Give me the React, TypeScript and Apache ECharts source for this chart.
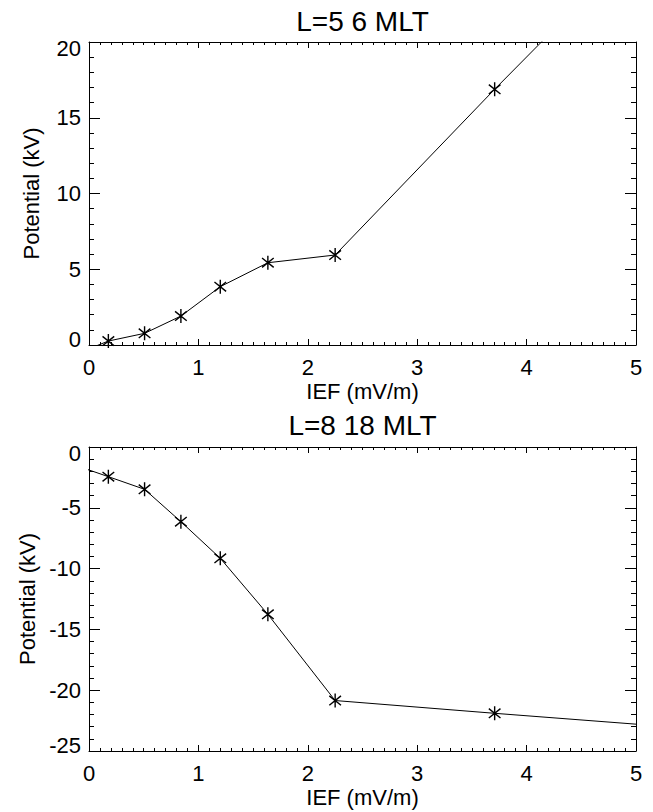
import React, { useEffect, useRef } from "react";
import * as echarts from "echarts";

// IEF (mV/m) at which the potential was evaluated
const ief = [0.177, 0.508, 0.84, 1.2, 1.635, 2.25, 3.708];
// Potential (kV), L=5, 6 MLT
const potL5 = [0.26, 0.77, 1.91, 3.85, 5.43, 5.94, 16.88];
// Potential (kV), L=8, 18 MLT
const potL8 = [-2.44, -3.48, -6.14, -9.15, -13.76, -20.85, -21.9];
// points lying outside the plotted window (line continues to the frame)
const iefOuterL5 = [0.0, 4.5];
const potOuterL5 = [-0.25, 22.66];
const iefOuterL8 = [-0.1, 5.3];
const potOuterL8 = [-1.58, -23.0];

const titles = ["L=5 6 MLT", "L=8 18 MLT"];
const xName = "IEF (mV/m)";
const yName = "Potential (kV)";
const xTicks = { min: 0, max: 5, interval: 1 };
const yTicksL5 = { min: 0, max: 20, interval: 5 };
const yTicksL8 = { min: -25, max: 0, interval: 5 };

const FONT = "'Liberation Sans', Arial, Helvetica, sans-serif";
const STAR = "path://M0,-6L0,6M-5,-4L5,4M-5,4L5,-4";

export default function App() {
  const ref = useRef<HTMLDivElement>(null);
  useEffect(() => {
    if (!ref.current) return;
    const chart = echarts.init(ref.current, undefined, { renderer: "svg" });

    const gridL = 89;
    const gridR = 17;
    const grids = [
      { left: gridL, right: gridR, top: 42, height: 303 },
      { left: gridL, right: gridR, top: 447, height: 304 },
    ];

    const mkX = (gi: number, pos: "bottom" | "top") => ({
      type: "value",
      gridIndex: gi,
      position: pos,
      min: xTicks.min,
      max: xTicks.max,
      interval: xTicks.interval,
      name: pos === "bottom" ? xName : "",
      nameLocation: "middle",
      nameGap: 35,
      nameTextStyle: { fontFamily: FONT, fontSize: 22, color: "#000" },
      axisLine: { show: true, onZero: false, lineStyle: { color: "#000", width: 1 } },
      axisTick: { show: true, inside: true, length: 6, lineStyle: { color: "#000", width: 1 } },
      minorTick: { show: true, splitNumber: 10, length: 3, lineStyle: { color: "#000", width: 1 } },
      splitLine: { show: false },
      axisLabel: {
        show: pos === "bottom",
        margin: 11,
        fontFamily: FONT,
        fontSize: 22,
        color: "#000",
      },
    });

    const lblStyle = { fontFamily: FONT, fontSize: 22, color: "#000" };
    const mkY = (gi: number, pos: "left" | "right", t: { min: number; max: number; interval: number }) => ({
      type: "value",
      gridIndex: gi,
      position: pos,
      min: t.min,
      max: t.max,
      interval: t.interval,
      name: pos === "left" ? yName : "",
      nameLocation: "middle",
      nameRotate: 90,
      nameGap: 47,
      nameTextStyle: { fontFamily: FONT, fontSize: 22, color: "#000" },
      axisLine: { show: true, onZero: false, lineStyle: { color: "#000", width: 1 } },
      axisTick: { show: true, inside: true, length: 11, lineStyle: { color: "#000", width: 1 } },
      minorTick: { show: true, splitNumber: 5, length: 5, lineStyle: { color: "#000", width: 1 } },
      splitLine: { show: false },
      axisLabel: {
        show: pos === "left",
        margin: 8,
        ...lblStyle,
        formatter: (v: number) =>
          v === t.max ? `{mx|${v}}` : v === t.min ? `{mn|${v}}` : `${v}`,
        rich: {
          mx: { ...lblStyle, padding: [12, 0, 0, 0] },
          mn: { ...lblStyle, padding: [0, 0, 12, 0] },
        },
      },
    });

    const pts = (xs: number[], ys: number[]) => xs.map((x, i) => [x, ys[i]]);
    const seriesData = (xs: number[], ys: number[], xo: number[], yo: number[]) =>
      [[xo[0], yo[0]], ...pts(xs, ys), [xo[1], yo[1]]];

    const mkSeries = (gi: number, data: number[][]) => ({
      type: "line",
      xAxisIndex: gi * 2,
      yAxisIndex: gi * 2,
      data,
      clip: true,
      symbol: STAR,
      symbolSize: 14,
      symbolKeepAspect: true,
      showAllSymbol: true,
      lineStyle: { color: "#000", width: 1 },
      itemStyle: { color: "#000", borderColor: "#000", borderWidth: 1.4 },
      emphasis: { disabled: true },
    });

    const centerX = gridL + (653 - gridL - gridR) / 2;
    const titleStyle = (text: string) => ({
      text,
      font: `28px ${FONT}`,
      fill: "#000",
      align: "center",
      verticalAlign: "middle",
      textAlign: "center",
      textVerticalAlign: "middle",
    });

    chart.setOption({
      animation: false,
      backgroundColor: "#fff",
      grid: grids,
      xAxis: [mkX(0, "bottom"), mkX(0, "top"), mkX(1, "bottom"), mkX(1, "top")],
      yAxis: [
        mkY(0, "left", yTicksL5),
        mkY(0, "right", yTicksL5),
        mkY(1, "left", yTicksL8),
        mkY(1, "right", yTicksL8),
      ],
      series: [
        mkSeries(0, seriesData(ief, potL5, iefOuterL5, potOuterL5)),
        mkSeries(1, seriesData(ief, potL8, iefOuterL8, potOuterL8)),
      ],
      graphic: [
        { type: "text", x: centerX, y: 21, style: titleStyle(titles[0]) },
        { type: "text", x: centerX, y: 425, style: titleStyle(titles[1]) },
      ],
    });
    return () => chart.dispose();
  }, []);

  return (
    <div
      ref={ref}
      style={{ position: "fixed", left: 0, top: 0, width: 653, height: 812, background: "#fff" }}
    />
  );
}
